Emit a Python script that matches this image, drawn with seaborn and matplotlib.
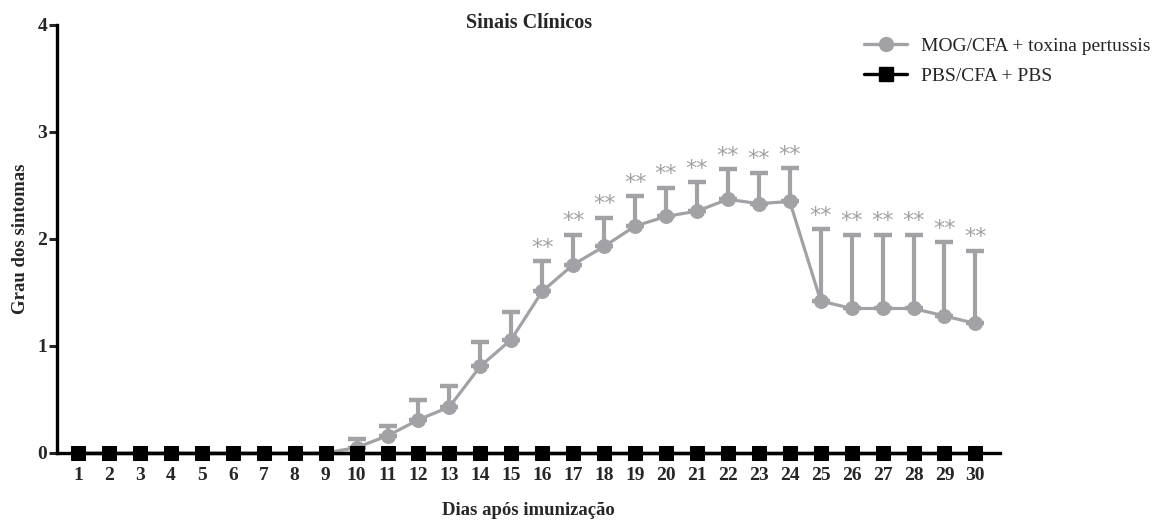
import matplotlib
matplotlib.use("Agg")
import matplotlib.pyplot as plt
import seaborn as sns
import pandas as pd
import numpy as np
from matplotlib.lines import Line2D

days = list(range(1, 31))
mog_mean = [0, 0, 0, 0, 0, 0, 0, 0, 0, 0.05, 0.16, 0.31, 0.43, 0.81, 1.06,
            1.51, 1.76, 1.93, 2.12, 2.21, 2.26, 2.37, 2.33, 2.35,
            1.42, 1.35, 1.35, 1.35, 1.28, 1.21]
mog_upper = [0, 0, 0, 0, 0, 0, 0, 0, 0, 0.13, 0.255, 0.49, 0.63, 1.04, 1.32,
             1.79, 2.04, 2.20, 2.40, 2.48, 2.53, 2.65, 2.62, 2.66,
             2.09, 2.04, 2.04, 2.04, 1.97, 1.89]
pbs_mean = [0] * 30
sig_days = list(range(16, 31))
sig_label = "**"

series_names = ["MOG/CFA + toxina pertussis", "PBS/CFA + PBS"]
title = "Sinais Clínicos"
xlabel = "Dias após imunização"
ylabel = "Grau dos sintomas"

grey = "#a2a2a6"
black = "#000000"

sns.set_style("white")
plt.rcParams["font.family"] = ["Liberation Serif", "DejaVu Serif"]

fig = plt.figure(figsize=(11.76, 5.2), dpi=100)
ax = fig.add_axes([0.0485, 0.129, 0.802, 0.823])

df = pd.DataFrame({
    "day": days * 2,
    "score": mog_mean + pbs_mean,
    "grupo": [series_names[0]] * 30 + [series_names[1]] * 30,
})

# error bars (upper only) for MOG group
yerr_up = np.array(mog_upper) - np.array(mog_mean)
mask = yerr_up > 0
ax.errorbar(np.array(days)[mask], np.array(mog_mean)[mask],
            yerr=[np.zeros(mask.sum()), yerr_up[mask]],
            fmt="none", ecolor=grey, elinewidth=3.0, capsize=6.5, capthick=3.2, zorder=2)

sns.lineplot(data=df[df.grupo == series_names[0]], x="day", y="score",
             color=grey, marker="o", markersize=10, markeredgecolor=grey,
             linewidth=2.3, ax=ax, zorder=3, legend=False)
sns.lineplot(data=df[df.grupo == series_names[1]], x="day", y="score",
             color=black, marker="s", markersize=9.5, markeredgecolor=black,
             linewidth=2.4, ax=ax, zorder=4, legend=False, clip_on=False)

for d in sig_days:
    i = days.index(d)
    ax.annotate(sig_label, (d, mog_upper[i]), xytext=(0, 2.5), textcoords="offset points",
                ha="center", va="bottom", color=grey, fontsize=16,
                family="DejaVu Sans")

ax.set_xlim(0.32, 30.8)
ax.set_ylim(0, 4)
ax.set_xticks(days)
ax.set_xticklabels([str(d) for d in days], fontweight="bold", fontsize=14)
ax.set_yticks([0, 1, 2, 3, 4])
ax.set_yticklabels(["0", "1", "2", "3", "4"], fontweight="bold", fontsize=14)
ax.tick_params(axis="y", direction="out", length=6, width=2.2, left=True, pad=1)
ax.tick_params(axis="x", direction="out", length=5, width=1.2, bottom=True, pad=5)

for s in ["top", "right"]:
    ax.spines[s].set_visible(False)
for s in ["left", "bottom"]:
    ax.spines[s].set_linewidth(2.4)
    ax.spines[s].set_color(black)

ax.set_xlabel(xlabel, fontweight="bold", fontsize=13.5, labelpad=13)
ax.set_ylabel(ylabel, fontweight="bold", fontsize=13.5, labelpad=6)
ax.set_title(title, fontweight="bold", fontsize=14.5, pad=-2, y=1.0)

handles = [
    Line2D([], [], color=grey, marker="o", markersize=10, linewidth=2.4),
    Line2D([], [], color=black, marker="s", markersize=9.5, linewidth=2.4),
]
fig.legend(handles, series_names, loc="upper left", bbox_to_anchor=(0.72, 0.962),
           frameon=False, fontsize=14, handlelength=2.2, labelspacing=0.65,
           handletextpad=0.7)

fig.savefig("out.png", dpi=100)
